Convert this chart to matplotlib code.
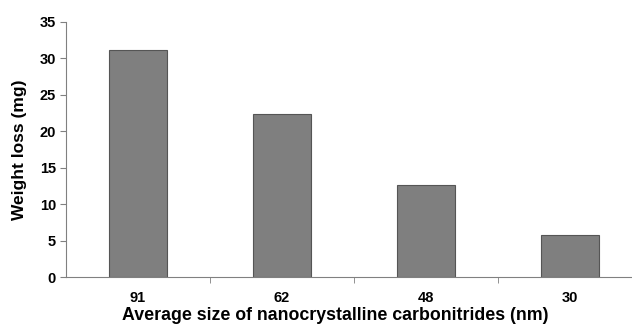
import matplotlib.pyplot as plt
import numpy as np

plt.rcParams["font.family"] = ["Liberation Sans", "DejaVu Sans"]
plt.rcParams["font.weight"] = "bold"

sizes = ["91", "62", "48", "30"]
weight_loss = [31.1, 22.4, 12.6, 5.8]

fig = plt.figure(figsize=(6.32, 3.26), dpi=100)
ax = fig.add_axes([0.104, 0.150, 0.896, 0.783])

x = np.arange(len(sizes))
ax.bar(x, weight_loss, width=0.4, color="#7f7f7f", edgecolor="#555555", linewidth=0.8)

ax.set_xlim(-0.5, 3.43)
ax.set_ylim(0, 35)
ax.set_yticks(range(0, 36, 5))

ax.set_xticks(x)
ax.set_xticklabels(sizes, fontsize=10.5, fontweight="bold")
ax.set_xticks(np.arange(0.5, 3.5, 1), minor=True)
ax.tick_params(axis="x", which="major", length=0, pad=10)
ax.tick_params(axis="x", which="minor", length=4, color="#808080", direction="out")
ax.tick_params(axis="y", length=4, color="#808080", labelsize=10.5, pad=3)
for lbl in ax.get_yticklabels():
    lbl.set_fontweight("bold")

for side in ["top", "right"]:
    ax.spines[side].set_visible(False)
for side in ["left", "bottom"]:
    ax.spines[side].set_color("#808080")

ax.set_xlabel("Average size of nanocrystalline carbonitrides (nm)", fontsize=12.8, fontweight="bold")
ax.xaxis.set_label_coords(0.476, -0.116)
ax.set_ylabel("Weight loss (mg)", fontsize=12.5, fontweight="bold", labelpad=9)

fig.savefig("out.png", dpi=100)
